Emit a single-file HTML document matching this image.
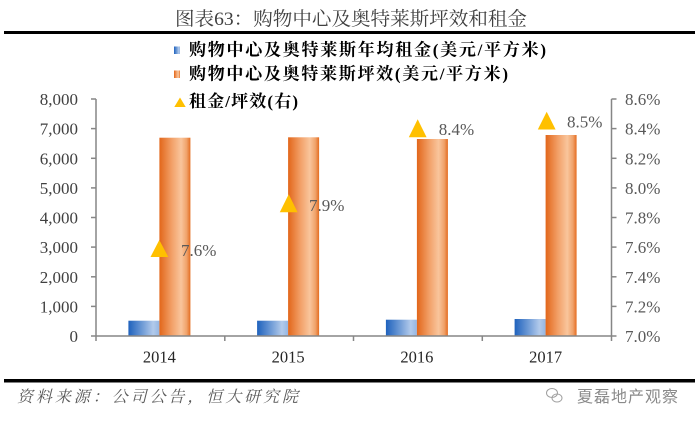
<!DOCTYPE html>
<html>
<head>
<meta charset="utf-8">
<style>
html,body{margin:0;padding:0;background:#fff;}
svg{display:block;}
</style>
</head>
<body>
<svg width="700" height="427" viewBox="0 0 700 427" xmlns="http://www.w3.org/2000/svg">
<defs>
<linearGradient id="gb" x1="0" y1="0" x2="1" y2="0">
<stop offset="0" stop-color="#1f62bd"/>
<stop offset="0.45" stop-color="#6f9bd6"/>
<stop offset="0.8" stop-color="#b2caeb"/>
<stop offset="1" stop-color="#95b6e2"/>
</linearGradient>
<linearGradient id="go" x1="0" y1="0" x2="1" y2="0">
<stop offset="0" stop-color="#e2661a"/>
<stop offset="0.4" stop-color="#f2a068"/>
<stop offset="0.7" stop-color="#f9c59c"/>
<stop offset="0.88" stop-color="#f0a26a"/>
<stop offset="1" stop-color="#e46c20"/>
</linearGradient>
</defs>

<!-- Title -->
<text x="175" y="25" textLength="352" lengthAdjust="spacingAndGlyphs" font-family="'Liberation Serif','Noto Serif CJK SC',serif" font-size="19" fill="#404040">图表63：购物中心及奥特莱斯坪效和租金</text>
<rect x="4" y="31" width="691" height="3" fill="#000"/>

<!-- Legend -->
<rect x="174" y="46.5" width="6" height="7.5" fill="url(#gb)"/>
<text x="189" y="55.5" textLength="357" lengthAdjust="spacing" font-family="'Liberation Serif','Noto Serif CJK SC',serif" font-size="17" font-weight="bold" fill="#000">购物中心及奥特莱斯年均租金(美元/平方米)</text>
<rect x="174" y="70.5" width="6" height="7.5" fill="url(#go)"/>
<text x="189" y="79.5" textLength="319" lengthAdjust="spacing" font-family="'Liberation Serif','Noto Serif CJK SC',serif" font-size="17" font-weight="bold" fill="#000">购物中心及奥特莱斯坪效(美元/平方米)</text>
<polygon points="180,97.5 174.3,107 185.7,107" fill="#ffc000"/>
<text x="189" y="107" textLength="109" lengthAdjust="spacing" font-family="'Liberation Serif','Noto Serif CJK SC',serif" font-size="17" font-weight="bold" fill="#000">租金/坪效(右)</text>

<!-- Bars -->
<g>
<rect x="128.4" y="320.7" width="31" height="15.3" fill="url(#gb)"/>
<rect x="159.4" y="137.7" width="31" height="198.3" fill="url(#go)"/>
<rect x="257.1" y="320.7" width="31" height="15.3" fill="url(#gb)"/>
<rect x="288.1" y="137.3" width="31" height="198.7" fill="url(#go)"/>
<rect x="385.9" y="319.7" width="31" height="16.3" fill="url(#gb)"/>
<rect x="416.9" y="139" width="31" height="197" fill="url(#go)"/>
<rect x="514.6" y="319" width="31" height="17" fill="url(#gb)"/>
<rect x="545.6" y="135" width="31" height="201" fill="url(#go)"/>
</g>

<!-- Axes -->
<g stroke="#868686" stroke-width="1.5" fill="none">
<line x1="96" y1="99" x2="96" y2="336"/>
<line x1="611.5" y1="99" x2="611.5" y2="336"/>
<line x1="96" y1="336" x2="611.5" y2="336"/>
<!-- left ticks -->
<line x1="91" y1="99" x2="96" y2="99"/>
<line x1="91" y1="128.6" x2="96" y2="128.6"/>
<line x1="91" y1="158.3" x2="96" y2="158.3"/>
<line x1="91" y1="187.9" x2="96" y2="187.9"/>
<line x1="91" y1="217.5" x2="96" y2="217.5"/>
<line x1="91" y1="247.1" x2="96" y2="247.1"/>
<line x1="91" y1="276.8" x2="96" y2="276.8"/>
<line x1="91" y1="306.4" x2="96" y2="306.4"/>
<line x1="91" y1="336" x2="96" y2="336"/>
<!-- right ticks -->
<line x1="611.5" y1="99" x2="616.5" y2="99"/>
<line x1="611.5" y1="128.6" x2="616.5" y2="128.6"/>
<line x1="611.5" y1="158.3" x2="616.5" y2="158.3"/>
<line x1="611.5" y1="187.9" x2="616.5" y2="187.9"/>
<line x1="611.5" y1="217.5" x2="616.5" y2="217.5"/>
<line x1="611.5" y1="247.1" x2="616.5" y2="247.1"/>
<line x1="611.5" y1="276.8" x2="616.5" y2="276.8"/>
<line x1="611.5" y1="306.4" x2="616.5" y2="306.4"/>
<line x1="611.5" y1="336" x2="616.5" y2="336"/>
<!-- category ticks -->
<line x1="96" y1="336" x2="96" y2="341"/>
<line x1="224.8" y1="336" x2="224.8" y2="341"/>
<line x1="353.5" y1="336" x2="353.5" y2="341"/>
<line x1="482.3" y1="336" x2="482.3" y2="341"/>
<line x1="611.5" y1="336" x2="611.5" y2="341"/>
</g>

<!-- Left tick labels -->
<g font-family="'Liberation Serif',serif" font-size="17" fill="#404040" text-anchor="end">
<text x="78" y="105">8,000</text>
<text x="78" y="134.6">7,000</text>
<text x="78" y="164.3">6,000</text>
<text x="78" y="193.9">5,000</text>
<text x="78" y="223.5">4,000</text>
<text x="78" y="253.1">3,000</text>
<text x="78" y="282.8">2,000</text>
<text x="78" y="312.4">1,000</text>
<text x="78" y="342">0</text>
</g>

<!-- Right tick labels -->
<g font-family="'Liberation Serif',serif" font-size="17" fill="#595959">
<text x="625" y="105">8.6%</text>
<text x="625" y="134.6">8.4%</text>
<text x="625" y="164.3">8.2%</text>
<text x="625" y="193.9">8.0%</text>
<text x="625" y="223.5">7.8%</text>
<text x="625" y="253.1">7.6%</text>
<text x="625" y="282.8">7.4%</text>
<text x="625" y="312.4">7.2%</text>
<text x="625" y="342">7.0%</text>
</g>

<!-- Category labels -->
<g font-family="'Liberation Serif',serif" font-size="16.5" fill="#262626" text-anchor="middle">
<text x="159.4" y="362.5">2014</text>
<text x="288.1" y="362.5">2015</text>
<text x="416.9" y="362.5">2016</text>
<text x="545.6" y="362.5">2017</text>
</g>

<!-- Triangles -->
<g fill="#ffc000">
<polygon points="159.3,240 150.5,257 168.3,257"/>
<polygon points="288.7,194.3 279.8,212.3 297.6,212.3"/>
<polygon points="417.7,119.3 408.8,137.3 426.6,137.3"/>
<polygon points="546.7,111.7 537.8,129.5 555.6,129.5"/>
</g>

<!-- Data labels -->
<g font-family="'Liberation Serif',serif" font-size="17" fill="#595959">
<text x="181" y="256">7.6%</text>
<text x="309" y="211">7.9%</text>
<text x="438.7" y="135">8.4%</text>
<text x="567" y="127.7">8.5%</text>
</g>

<!-- Bottom rule -->
<rect x="4" y="379" width="691" height="3.5" fill="#000"/>

<!-- Footer -->
<text x="17" y="402" textLength="281" lengthAdjust="spacing" font-family="'Liberation Serif','Noto Serif CJK SC',serif" font-size="16" font-style="italic" fill="#595959">资料来源：公司公告，恒大研究院</text>

<!-- Watermark -->
<g fill="none" stroke="#a0a0a0" stroke-width="1">
<ellipse cx="552" cy="393" rx="5.5" ry="4.5"/>
<ellipse cx="557" cy="398" rx="5" ry="4"/>
</g>
<text x="577" y="402" textLength="101" lengthAdjust="spacing" font-family="'Noto Sans CJK SC',sans-serif" font-size="16" fill="#8a8a8a">夏磊地产观察</text>
</svg>
</body>
</html>
